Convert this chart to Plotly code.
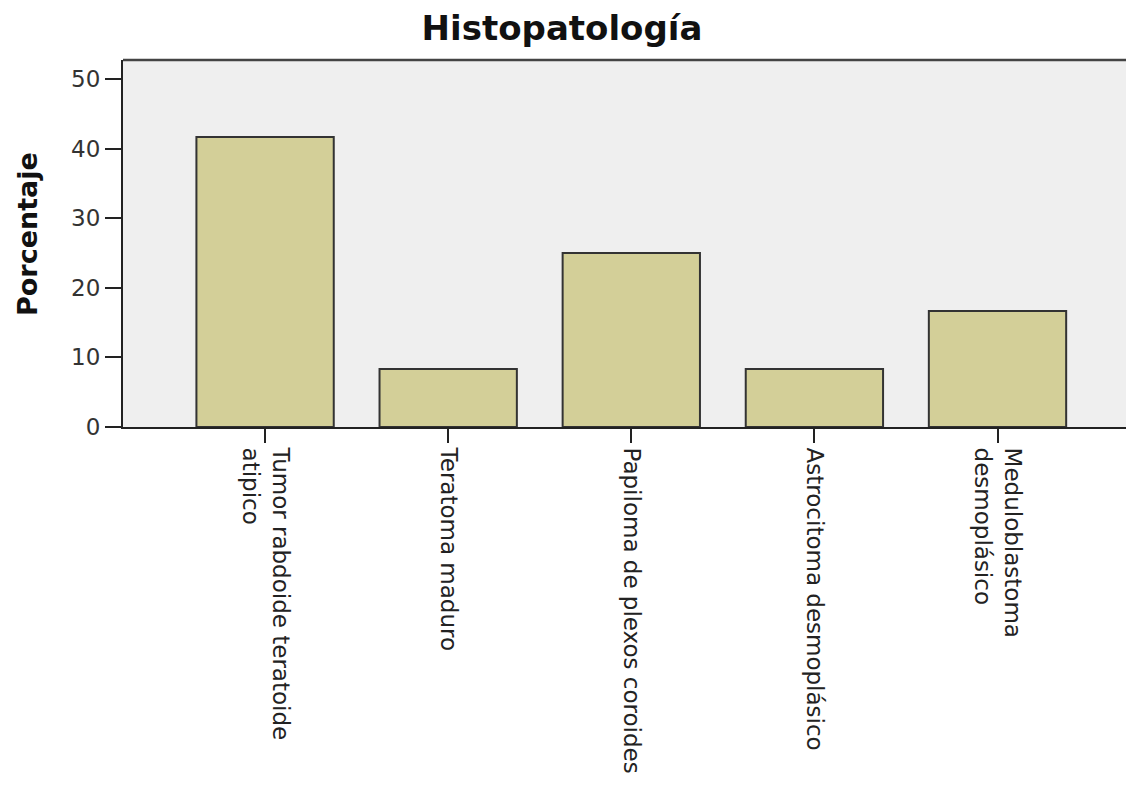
import plotly.graph_objects as go

categories = ["Tumor rabdoide teratoide<br>atipico", "Teratoma maduro",
              "Papiloma de plexos coroides", "Astrocitoma desmoplásico",
              "Meduloblastoma<br>desmoplásico"]
values = [41.67, 8.33, 25.0, 8.33, 16.67]
y_ticks = [0, 10, 20, 30, 40, 50]

W, H = 1126, 781  # page body has an 8px margin
L, R, T, B = 115, 1, 52, 362
PW, PH = W - L - R, H - T - B

fig = go.Figure(go.Bar(
    x=list(range(len(categories))), y=values, width=0.75,
    marker=dict(color="#D3CF98", line=dict(color="#333333", width=2)),
))

fig.update_layout(
    width=W, height=H,
    margin=dict(l=L, r=R, t=T, b=B),
    paper_bgcolor="white", plot_bgcolor="#EFEFEF",
    title=dict(text="<b>Histopatología</b>", x=554 / W, xanchor="center", xref="container",
               y=1 - 8 / H, yanchor="top", yref="container",
               font=dict(family="DejaVu Sans", size=34, color="#111")),
    showlegend=False,
    font=dict(family="DejaVu Sans", color="#222222"),
)
fig.update_xaxes(
    range=[-0.776, 4.74], tickmode="array",
    tickvals=list(range(len(categories))), ticktext=categories,
    tickangle=90, ticks="outside", ticklen=14, tickwidth=2, tickcolor="#222",
    showline=True, linecolor="#222", linewidth=2, mirror=False,
    showgrid=False, zeroline=False, tickfont=dict(size=23, color="#222"),
)
fig.update_yaxes(
    range=[0, 52.73], tickmode="array", tickvals=y_ticks,
    ticks="outside", ticklen=16, tickwidth=2, tickcolor="#222",
    showline=True, linecolor="#222", linewidth=2,
    showgrid=False, zeroline=False, tickfont=dict(size=23, color="#333"),
)
fig.add_annotation(text="<b>Porcentaje</b>", xref="paper", yref="paper",
                   x=(19 - L) / PW, y=(T + PH - 226) / PH, textangle=-90,
                   showarrow=False, xanchor="center", yanchor="middle",
                   font=dict(family="DejaVu Sans", size=27, color="#111"))
fig.add_shape(type="line", xref="paper", yref="paper", x0=0, x1=1, y0=1, y1=1,
              line=dict(color="#444", width=2.5))
fig.write_html("out.html")
